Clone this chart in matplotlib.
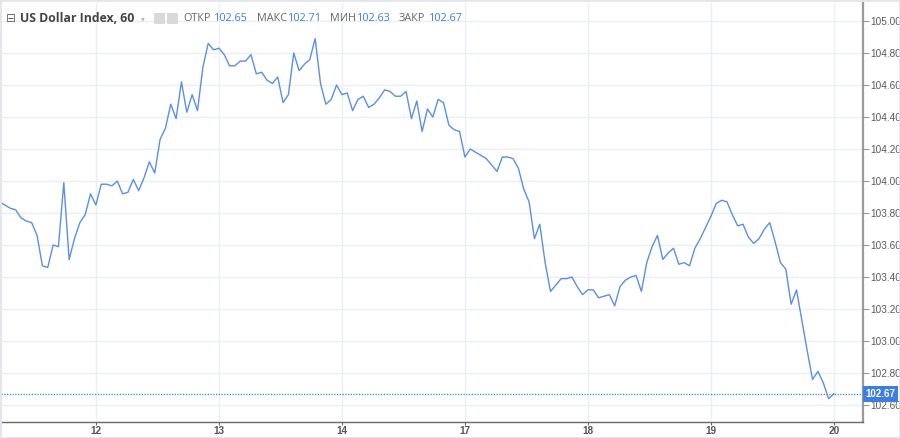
import numpy as np
import matplotlib
matplotlib.use('Agg')
import matplotlib.pyplot as plt
from matplotlib.patches import Rectangle

# hourly closes, 23 bars per trading day, bar 0 = start of the 12th
bars_per_day = 23
first_bar = -18
prices = [
    103.87, 103.85, 103.83, 103.82, 103.77, 103.75, 103.74, 103.66, 103.47, 103.46,
    103.60, 103.59, 103.99, 103.51, 103.64, 103.74, 103.79, 103.92,
    103.85, 103.98, 103.98, 103.97, 104.00, 103.92, 103.93, 104.01, 103.94, 104.02,
    104.12, 104.05, 104.26, 104.33, 104.48, 104.39, 104.62, 104.43, 104.54, 104.44,
    104.71, 104.86, 104.82,
    104.83, 104.79, 104.72, 104.72, 104.75, 104.75, 104.79, 104.67, 104.68, 104.63,
    104.61, 104.65, 104.49, 104.54, 104.80, 104.69, 104.73, 104.76, 104.89, 104.61,
    104.48, 104.51, 104.60,
    104.54, 104.55, 104.44, 104.51, 104.53, 104.46, 104.48, 104.52, 104.57, 104.56,
    104.53, 104.53, 104.56, 104.39, 104.50, 104.31, 104.45, 104.40, 104.51, 104.49,
    104.35, 104.32, 104.31,
    104.15, 104.20, 104.18, 104.16, 104.14, 104.10, 104.06, 104.15, 104.15, 104.14,
    104.08, 103.95, 103.87, 103.64, 103.73, 103.49, 103.31, 103.35, 103.39, 103.39,
    103.40, 103.34, 103.29,
    103.32, 103.32, 103.27, 103.28, 103.29, 103.22, 103.34, 103.38, 103.40, 103.41,
    103.31, 103.49, 103.59, 103.66, 103.51, 103.55, 103.58, 103.48, 103.49, 103.47,
    103.58, 103.64, 103.71,
    103.78, 103.86, 103.88, 103.87, 103.79, 103.72, 103.73, 103.65, 103.61, 103.64,
    103.70, 103.74, 103.62, 103.49, 103.45, 103.23, 103.32, 103.13, 102.94, 102.76,
    102.81, 102.74, 102.64,
    102.67,
]
day_labels = ['12', '13', '14', '17', '18', '19', '20']
price_ticks = [102.60, 102.80, 103.00, 103.20, 103.40, 103.60, 103.80,
               104.00, 104.20, 104.40, 104.60, 104.80, 105.00]
bar_open, bar_high, bar_low, bar_close = 102.65, 102.71, 102.63, 102.67

bars = np.arange(first_bar, first_bar + len(prices))
line_col = '#5b8fe6'
blue = '#3d7ee0'
grid_col = '#e9eff5'
tick_font = 'Liberation Sans'

fig = plt.figure(figsize=(9, 4.38), dpi=100)
ax = fig.add_axes([0.001, 0.0365, 0.9578, 0.9566])

ax.plot(bars, prices, color=line_col, lw=1.0, zorder=3)
ax.axhline(bar_close, color=blue, lw=0.9, ls=(0, (1, 1.2)), zorder=2)

ax.set_xlim(-17.76, 143.42)
ax.set_ylim(102.494, 105.1125)

ax.set_xticks([i * bars_per_day for i in range(len(day_labels))])
ax.set_xticklabels(day_labels, fontfamily=tick_font, fontweight='bold')
ax.set_yticks(price_ticks)
ax.set_yticklabels(['%.2f' % t for t in price_ticks], fontfamily=tick_font)
ax.yaxis.tick_right()
ax.grid(True, color=grid_col, lw=1.0)
ax.set_axisbelow(True)

for s in ['top', 'left']:
    ax.spines[s].set_visible(False)
ax.spines['right'].set_color('#9a9a9a')
ax.spines['right'].set_linewidth(1.6)
ax.spines['bottom'].set_color('#6a6a6a')
ax.spines['bottom'].set_linewidth(1.0)

ax.tick_params(axis='y', which='both', length=4, width=0.8, color='#9a9a9a',
               labelsize=7.2, labelcolor='#5a5a5a', pad=1.5)
ax.tick_params(axis='x', length=2, width=0.8, color='#6a6a6a',
               labelsize=7.2, labelcolor='#555555', pad=1.2)

ax.text(1.003, bar_close, '%.2f' % bar_close, transform=ax.get_yaxis_transform(),
        ha='left', va='center', fontsize=7.0, color='white', fontweight='bold',
        fontfamily=tick_font,
        bbox=dict(boxstyle='square,pad=0.3', fc=blue, ec='none'), zorder=5)

# header
fig.text(0.006, 0.958, '\u229f', fontsize=8.5, color='#666666', va='center')
fig.text(0.022, 0.958, 'US Dollar Index, 60', fontsize=8.8, color='#444444',
         va='center', fontweight='bold', fontfamily='Open Sans')
fig.text(0.157, 0.958, '\u25be', fontsize=5.5, color='#bbbbbb', va='center')
for xs in [0.171, 0.186]:
    fig.patches.append(Rectangle((xs, 0.945), 0.012, 0.026, transform=fig.transFigure,
                                 fc='#d9d9d9', ec='none'))
x = 0.204
for name, val in [('ОТКР', bar_open), ('МАКС', bar_high), ('МИН', bar_low), ('ЗАКР', bar_close)]:
    fig.text(x, 0.958, name, fontsize=7.8, color='#666666', va='center',
             fontfamily='Open Sans')
    fig.text(x + (0.034 if name != 'МИН' else 0.0295), 0.958, '%.2f' % val,
             fontsize=7.8, color=blue, va='center', fontfamily='Open Sans')
    x += 0.0815 if name != 'МИН' else 0.076

fig.patches.append(Rectangle((0, 0), 1, 1, transform=fig.transFigure,
                             fill=False, ec='#e3e5ea', lw=2))

fig.savefig('out.png', dpi=100, facecolor='white')
